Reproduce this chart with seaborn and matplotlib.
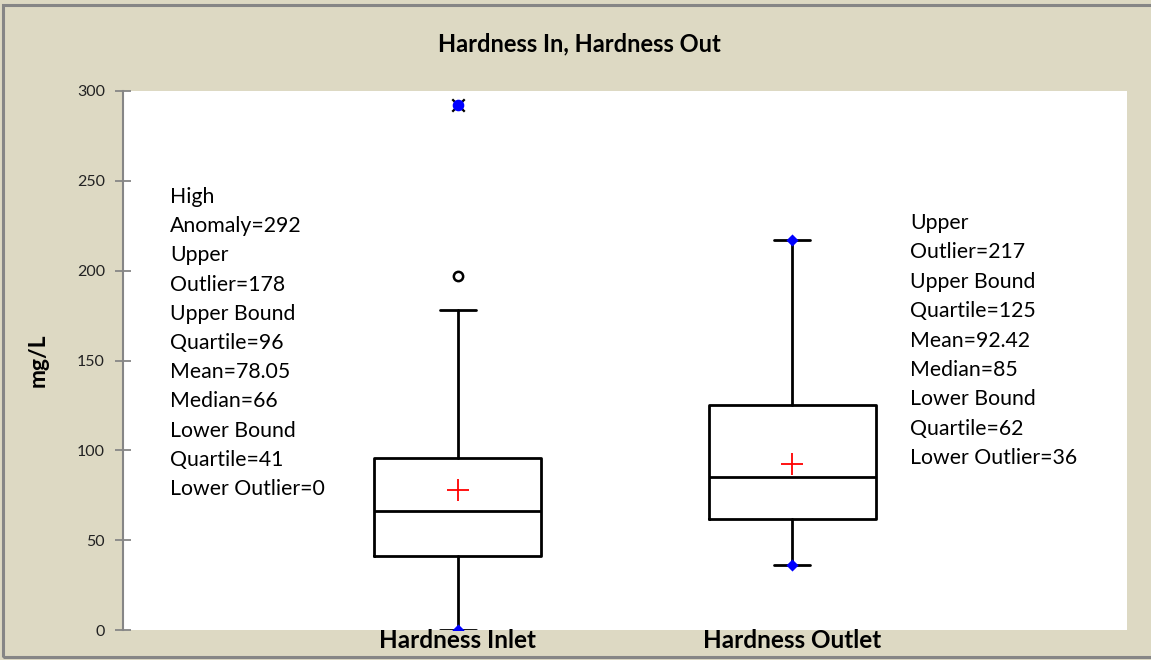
import matplotlib
matplotlib.use("Agg")
import matplotlib.pyplot as plt
import seaborn as sns
import pandas as pd
from matplotlib.patches import Rectangle

# ---- data ----
categories = ["Hardness Inlet", "Hardness Outlet"]
lower_whisker = [0, 36]
q1 = [41, 62]
median = [66, 85]
q3 = [96, 125]
upper_whisker = [178, 217]
mean = [78.05, 92.42]
outliers = [[197], []]
anomalies = [[292], []]
diamond_points = [[0], [36, 217]]
left_notes = ["High", "Anomaly=292", "Upper", "Outlier=178", "Upper Bound",
              "Quartile=96", "Mean=78.05", "Median=66", "Lower Bound",
              "Quartile=41", "Lower Outlier=0"]
right_notes = ["Upper", "Outlier=217", "Upper Bound", "Quartile=125",
               "Mean=92.42", "Median=85", "Lower Bound", "Quartile=62",
               "Lower Outlier=36"]
yticks = [0, 50, 100, 150, 200, 250, 300]

sns.set_theme(style="white")
plt.rcParams["font.family"] = ["Lato", "DejaVu Sans"]

W, H = 1151, 660
BG = "#ddd9c3"
fig = plt.figure(figsize=(W / 100, H / 100), dpi=100, facecolor=BG)
ax = fig.add_axes([123 / W, (H - 630) / H, 1004 / W, 539 / H])
ax.set_facecolor("white")

stats = []
for i, c in enumerate(categories):
    stats.append(dict(label=c, whislo=lower_whisker[i], q1=q1[i], med=median[i],
                      q3=q3[i], whishi=upper_whisker[i], fliers=[], mean=mean[i]))
pos = list(range(len(categories)))
ax.bxp(stats, positions=pos, widths=0.5, showfliers=False, showmeans=False,
       boxprops=dict(color="black", linewidth=2),
       medianprops=dict(color="black", linewidth=2),
       whiskerprops=dict(color="black", linewidth=2),
       capprops=dict(color="black", linewidth=2),
       capwidths=0.108, manage_ticks=False, zorder=2)

# means
mdf = pd.DataFrame({"x": pos, "y": mean})
sns.scatterplot(data=mdf, x="x", y="y", marker="+", s=260, color="red",
                linewidth=1.3, ax=ax, zorder=4)
# outliers (open circles)
odf = pd.DataFrame([(i, v) for i, vs in enumerate(outliers) for v in vs], columns=["x", "y"])
sns.scatterplot(data=odf, x="x", y="y", marker="o", s=45, facecolor="white",
                edgecolor="black", linewidth=1.8, ax=ax, zorder=4)
# anomalies
adf = pd.DataFrame([(i, v) for i, vs in enumerate(anomalies) for v in vs], columns=["x", "y"])
sns.scatterplot(data=adf, x="x", y="y", marker="x", s=80, color="black",
                linewidth=1.6, ax=ax, zorder=4)
sns.scatterplot(data=adf, x="x", y="y", marker="o", s=70, color="blue",
                edgecolor="blue", linewidth=0, ax=ax, zorder=5)
# whisker end diamonds
ddf = pd.DataFrame([(i, v) for i, vs in enumerate(diamond_points) for v in vs], columns=["x", "y"])
sns.scatterplot(data=ddf, x="x", y="y", marker="D", s=38, color="blue",
                edgecolor="blue", linewidth=0, ax=ax, zorder=5)

ax.set_xlim(-1, 2)
ax.set_ylim(0, 300)
ax.set_yticks(yticks)
ax.set_xticks(pos)
ax.set_xticklabels(categories, fontsize=17.5, fontweight="bold", color="black")
ax.tick_params(axis="x", length=0, pad=-1)
ax.tick_params(axis="y", direction="inout", length=12, width=1.3, color="#868686",
               labelsize=11.5, labelcolor="#222222", pad=7, left=True)
ax.set_xlabel("")
ax.set_ylabel("mg/L", fontsize=16.5, fontweight="bold", color="black", labelpad=20)
for s in ["top", "right", "bottom"]:
    ax.spines[s].set_visible(False)
ax.spines["left"].set_color("#868686")
ax.spines["left"].set_linewidth(1.5)

fig.text(579 / W, 1 - 44 / H, "Hardness In, Hardness Out", ha="center", va="center",
         fontsize=17, fontweight="bold", color="black")

for k, t in enumerate(left_notes):
    fig.text(170 / W, 1 - (197 + 29.2 * k) / H, t, ha="left", va="center",
             fontsize=15.3, color="black")
for k, t in enumerate(right_notes):
    fig.text(910 / W, 1 - (223 + 29.4 * k) / H, t, ha="left", va="center",
             fontsize=15.3, color="black")

fig.patches.append(Rectangle((3 / W, 3 / H), (W + 20) / W, (H - 8) / H,
                             transform=fig.transFigure, fill=False,
                             edgecolor="#868686", linewidth=2.2, zorder=10))

fig.savefig("out.png", dpi=100, facecolor=BG)
